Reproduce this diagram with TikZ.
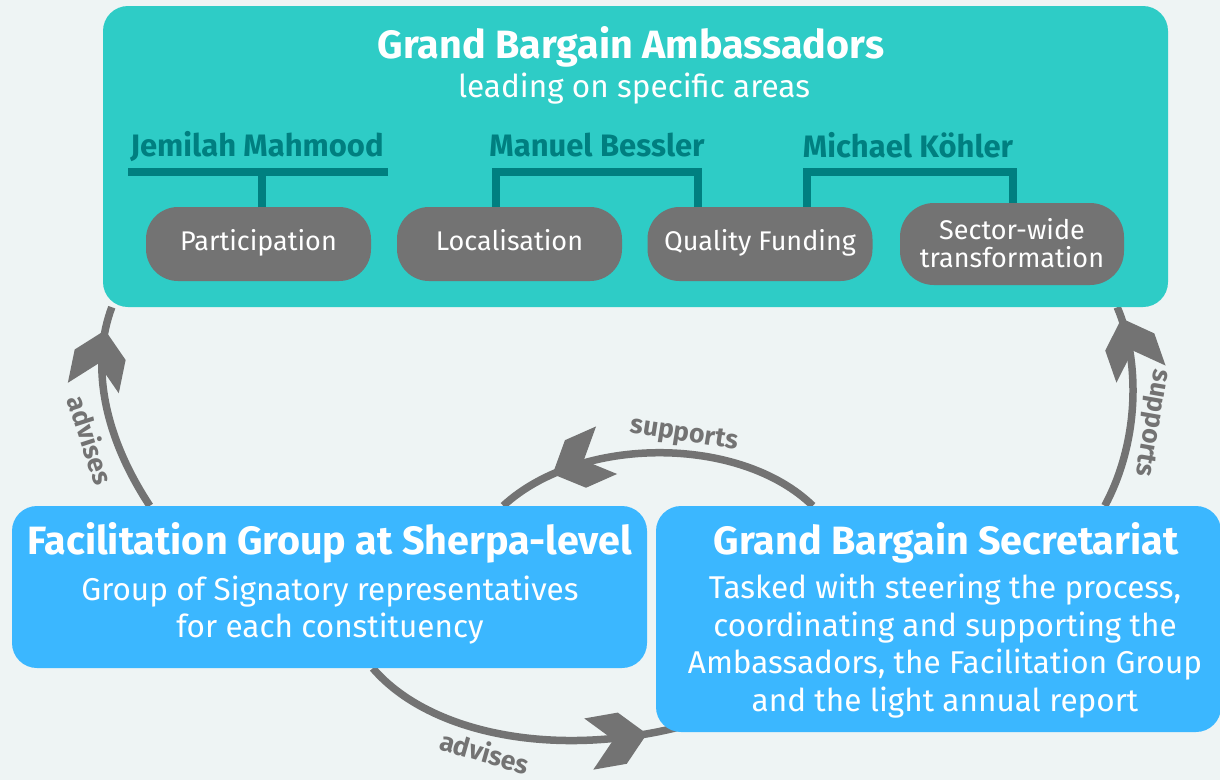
\documentclass[tikz,border=0pt]{standalone}
\usepackage{fontspec}
\setmainfont{Fira Sans}
\usetikzlibrary{calc,decorations.markings}
\definecolor{bgc}{HTML}{EEF4F4}
\definecolor{tealc}{HTML}{2ECCC6}
\definecolor{darkteal}{HTML}{007F80}
\definecolor{pillgray}{HTML}{737373}
\definecolor{bluec}{HTML}{3BB7FF}
\definecolor{arrgray}{HTML}{737373}
\pgfdeclarelayer{bgl}
\pgfdeclarelayer{conn}
\pgfsetlayers{bgl,conn,main}
\tikzset{
  panel/.style={draw=none, rounded corners=25pt, inner sep=0pt},
  pill/.style={draw=none, fill=pillgray, rounded corners=32pt, minimum width=225pt, minimum height=74pt, inner sep=0pt, text=white, align=center, font=\fontsize{27}{28}\selectfont},
  pillline/.style={text height=19pt, text depth=6pt},
  ttl/.style={text=white, font=\fontsize{39.5}{42}\selectfont\bfseries, inner sep=0pt},
  body/.style={text=white, font=\fontsize{31.5}{37.5}\selectfont, align=center, inner sep=0pt},
  person/.style={text=darkteal, font=\fontsize{31}{34}\selectfont\bfseries, inner sep=0pt},
  bracket/.style={draw=darkteal, line width=7.5pt},
  flow/.style={draw=arrgray, line width=7.5pt},
  chev/.style={postaction={decorate}, decoration={markings, mark=at position #1 with {\fill[arrgray] (0,0) -- (-25,26) -- (-59,26) -- (-34,0) -- (-59,-26) -- (-25,-26) -- cycle;}}},
  flowlabel/.style={text=arrgray, font=\fontsize{26.5}{28}\selectfont\bfseries, inner sep=0pt}
}
\begin{document}
\begin{tikzpicture}[x=1pt,y=-1pt]
\begin{pgfonlayer}{bgl}
\fill[bgc] (0,0) rectangle (1220,780);
\end{pgfonlayer}
\useasboundingbox (0,0) rectangle (1220,780);

% panels
\node[panel, fill=tealc, minimum width=1065pt, minimum height=301pt] (amb) at (635.5,156.5) {};
\node[panel, fill=bluec, minimum width=635pt, minimum height=162pt] (fac) at (329.5,587) {};
\node[panel, fill=bluec, minimum width=565pt, minimum height=226pt] (sec) at (938.5,619) {};

% ambassadors text
\node[ttl] (ambt) at (631,47) {Grand Bargain Ambassadors};
\node[body, font=\fontsize{31.5}{34}\selectfont] (ambs) at (634,89) {leading on specific areas};

\node[person] (jem) at (257,147) {Jemilah Mahmood};
\node[person] (man) at (597,145) {Manuel Bessler};
\node[person] (mic) at (908,145) {Michael Köhler};

\node[pill, pillline] (part) at (258.5,244) {Participation};
\node[pill, pillline] (loc) at (509.5,244) {Localisation};
\node[pill, pillline] (qual) at (760,244) {Quality Funding};
\node[pill, minimum height=82pt, minimum width=224pt, rounded corners=34pt] (sect) at (1012,244) {\raisebox{3pt}{Sector-wide}\\\raisebox{3pt}{transformation}};

% brackets
\draw[bracket] ($(part.north)+(-130.5,-35)$) -- ++(260,0);
\draw[bracket] ([xshift=3.5pt]part.north) -- ++(0,-35);
\draw[bracket] ([xshift=-13.5pt]loc.north) -- ++(0,-35) -| ([xshift=-62pt]qual.north);
\draw[bracket] ([xshift=47pt]qual.north) -- ++(0,-35) -| ([xshift=1pt]sect.north);

% facilitation text
\node[ttl] (fact) at (330,543) {Facilitation Group at Sherpa-level};
\node[body] (facb) at (330,610) {Group of Signatory representatives\\for each constituency};

% secretariat text
\node[ttl] (sect2) at (946,543) {Grand Bargain Secretariat};
\node[body] (secb) at (945,646) {Tasked with steering the process,\\coordinating and supporting the\\Ambassadors, the Facilitation Group\\and the light annual report};

% connectors
\begin{pgfonlayer}{conn}
\draw[flow, chev=-24pt] ([xshift=138pt]fac.north west) .. controls (100,430) and (92,360) .. ([xshift=9pt]amb.south west);
\draw[flow, chev=-12pt] ([xshift=449pt]sec.north west) .. controls (1140,440) and (1140,360) .. ([xshift=-51pt]amb.south east);
\draw[flow, chev=-59pt] ([xshift=157pt]sec.north west) .. controls (740,435) and (580,435) .. ([xshift=-144pt]fac.north east);
\draw[flow, chev=-44pt] ([xshift=361pt]fac.south west) .. controls (430,735) and (560,760) .. ([xshift=34pt,yshift=8pt]sec.south west);
\end{pgfonlayer}

\node[flowlabel, rotate=-72] (advl) at (91,440) {advises};
\node[flowlabel, rotate=-100] (supr) at (1151,423) {supports};
\node[flowlabel, rotate=-9] (supt) at (684,435) {supports};
\node[flowlabel, rotate=-16] (advb) at (485,752) {advises};
\end{tikzpicture}
\end{document}
